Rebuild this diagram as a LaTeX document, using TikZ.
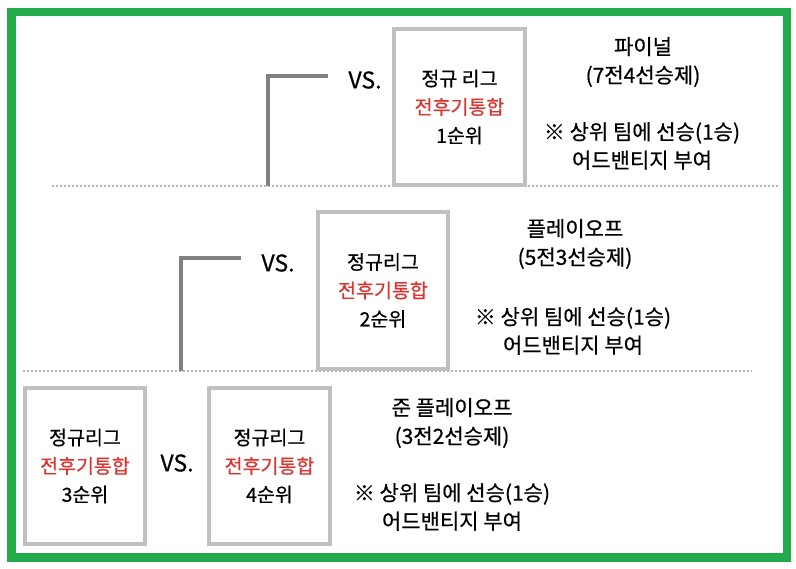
\documentclass[tikz,border=0pt]{standalone}
\usepackage{fontspec}
\setmainfont{Noto Sans CJK KR}[FakeBold=0.6]
\usepackage{xcolor}
\usetikzlibrary{positioning}
\definecolor{framegreen}{RGB}{34,170,75}
\definecolor{boxgrey}{RGB}{192,192,192}
\definecolor{linegrey}{RGB}{128,128,128}
\definecolor{dotgrey}{RGB}{180,180,180}
\definecolor{rankred}{RGB}{222,52,48}
\tikzset{
  seed/.style={draw=boxgrey, line width=4pt, fill=white, align=center,
    minimum width=131pt, minimum height=156pt, inner sep=0pt,
    font=\fontsize{19.5}{28.5}\selectfont},
  versus/.style={font=\fontsize{23}{24}\selectfont, inner sep=0pt},
  roundinfo/.style={align=center, inner sep=0pt,
    font=\fontsize{21}{28.5}\selectfont},
  bracket/.style={draw=linegrey, line width=4pt},
  divider/.style={draw=dotgrey, line width=2pt, dash pattern=on 2pt off 2pt}
}
\newcommand{\seedtext}[2]{#1\\\textcolor{rankred}{전후기통합}\\#2}

\begin{document}
\begin{tikzpicture}[x=1pt, y=-1pt]
  \useasboundingbox (0,0) rectangle (796,569);
  % green frame
  \draw[draw=framegreen, line width=8.5pt] (11.5,12) rectangle (787,557.5);

  % dotted dividers
  \draw[divider] (52,186) -- (780,186);
  \draw[divider] (23,371) -- (752,371);

  % Final: 1st seed
  \node[seed] (seed1) at (459.5,107) {\seedtext{정규 리그}{1순위}};
  \node[versus] (vs1) at (365,80) {VS.};
  \coordinate (root1) at (268,186);
  \coordinate (tip1) at (328,76);
  \draw[bracket] (root1) |- (tip1);
  \node[roundinfo] (final) at (643,62) {파이널\\(7전4선승제)};
  \node[roundinfo] (final note) at (642,146) {※ 상위 팀에 선승(1승)\\어드밴티지 부여};

  % Playoff: 2nd seed
  \node[seed, minimum width=130pt, minimum height=157pt] (seed2) at (383,290.5) {\seedtext{정규리그}{2순위}};
  \node[versus] (vs2) at (278,263) {VS.};
  \coordinate (root2) at (181,371);
  \coordinate (tip2) at (241,258);
  \draw[bracket] (root2) |- (tip2);
  \node[roundinfo] (playoff) at (575,244) {플레이오프\\(5전3선승제)};
  \node[roundinfo] (playoff note) at (573,331) {※ 상위 팀에 선승(1승)\\어드밴티지 부여};

  % Semi-playoff: 3rd vs 4th seed
  \node[seed, minimum width=120pt, minimum height=155pt] (seed3) at (85,466) {\seedtext{정규리그}{3순위}};
  \node[seed, minimum width=121pt, minimum height=155pt] (seed4) at (269.5,466) {\seedtext{정규리그}{4순위}};
  \node[versus] (vs3) at (177,463) {VS.};
  \node[roundinfo] (semi) at (452,423) {준 플레이오프\\(3전2선승제)};
  \node[roundinfo] (semi note) at (452,507) {※ 상위 팀에 선승(1승)\\어드밴티지 부여};
\end{tikzpicture}
\end{document}
